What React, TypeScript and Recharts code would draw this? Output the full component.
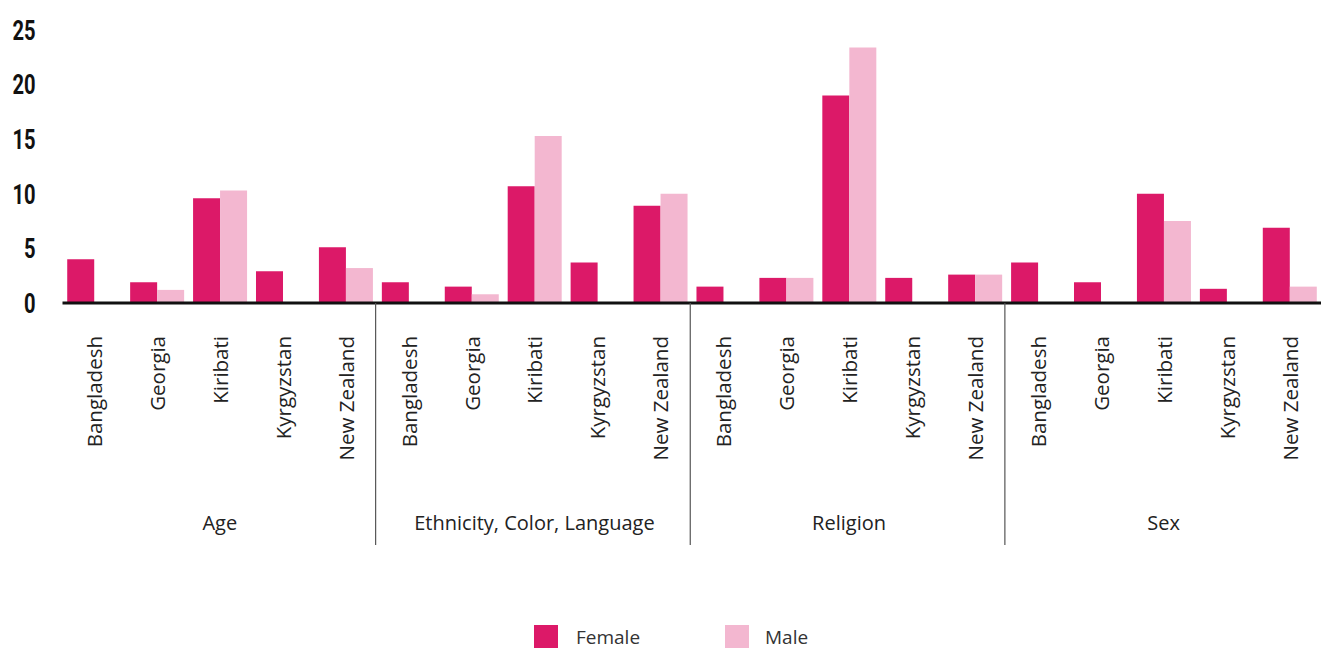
import React from "react";
import { BarChart, Bar, XAxis, YAxis } from "recharts";

const groups = ["Age", "Ethnicity, Color, Language", "Religion", "Sex"];
const countries = ["Bangladesh", "Georgia", "Kiribati", "Kyrgyzstan", "New Zealand"];
const yTicks = [0, 5, 10, 15, 20, 25];

// values per group, in country order
const femaleAge = [4.0, 1.9, 9.6, 2.9, 5.1];
const maleAge = [0, 1.2, 10.3, 0, 3.2];
const femaleEthnicity = [1.9, 1.5, 10.7, 3.7, 8.9];
const maleEthnicity = [0, 0.8, 15.3, 0, 10.0];
const femaleReligion = [1.5, 2.3, 19.0, 2.3, 2.6];
const maleReligion = [0, 2.3, 23.4, 0, 2.6];
const femaleSex = [3.7, 1.9, 10.0, 1.3, 6.9];
const maleSex = [0, 0, 7.5, 0, 1.5];

const femaleByGroup = [femaleAge, femaleEthnicity, femaleReligion, femaleSex];
const maleByGroup = [maleAge, maleEthnicity, maleReligion, maleSex];

const FEMALE = "#DC1968";
const MALE = "#F3B7D0";
const FONT = "'Open Sans', 'Noto Sans', sans-serif";

const data = groups.flatMap((g, gi) =>
  countries.map((c, ci) => ({
    key: `${gi}-${ci}`,
    group: g,
    country: c,
    ci,
    Female: femaleByGroup[gi][ci],
    Male: maleByGroup[gi][ci],
  }))
);

const CountryTick = (props: any) => {
  const { x, y, index, payload } = props;
  const d = data[index];
  const half = payload && typeof payload.offset === "number" ? payload.offset : 31.46;
  const ty = y + 33;
  return (
    <g>
      <text
        x={x}
        y={ty}
        transform={`rotate(-90, ${x}, ${ty})`}
        textAnchor="end"
        dominantBaseline="central"
        fontFamily={FONT}
        fontSize={20.5}
        fill="#222"
      >
        {d ? d.country : ""}
      </text>
      {d && d.ci === 0 && index > 0 ? (
        <line x1={x - half - 1.5} x2={x - half - 1.5} y1={y} y2={y + 242} stroke="#555" strokeWidth={1.2} />
      ) : null}
    </g>
  );
};

const GroupTick = (props: any) => {
  const { x, y, index } = props;
  const d = data[index];
  if (!d || d.ci !== 2) return <g />;
  return (
    <text
      x={x}
      y={y + 29}
      textAnchor="middle"
      dominantBaseline="central"
      fontFamily={FONT}
      fontSize={20}
      fill="#222"
    >
      {d.group}
    </text>
  );
};

const YTick = (props: any) => {
  const { x, y, payload } = props;
  return (
    <text
      transform={`translate(${x}, ${y}) scale(0.72, 1)`}
      textAnchor="end"
      dominantBaseline="central"
      fontFamily="Roboto, sans-serif"
      fontWeight={700}
      fontSize={28}
      fill="#111"
    >
      {payload.value}
    </text>
  );
};

export default function App() {
  return (
    <div style={{ position: "absolute", left: 0, top: 0, width: 1327, height: 648, background: "#fff" }}>
      <BarChart
        width={1327}
        height={648}
        data={data}
        margin={{ top: 30, right: 6, left: 22.5, bottom: 0 }}
        barGap={0}
        barCategoryGap="7.5%"
      >
        <XAxis
          dataKey="key"
          interval={0}
          height={190}
          tickLine={false}
          tickSize={0}
          tickMargin={0}
          axisLine={{ stroke: "#111", strokeWidth: 3 }}
          tick={<CountryTick />}
        />
        <XAxis
          xAxisId="group"
          dataKey="key"
          interval={0}
          height={155}
          tickLine={false}
          tickSize={0}
          tickMargin={0}
          axisLine={false}
          tick={<GroupTick />}
        />
        <YAxis
          domain={[0, 25]}
          ticks={yTicks}
          width={40}
          axisLine={false}
          tickLine={false}
          tickSize={0}
          tickMargin={27}
          tick={<YTick />}
        />
        <Bar dataKey="Female" fill={FEMALE} isAnimationActive={false} />
        <Bar dataKey="Male" fill={MALE} isAnimationActive={false} />
      </BarChart>
      <div
        style={{
          position: "absolute",
          left: 534,
          top: 624,
          display: "flex",
          alignItems: "center",
          fontFamily: FONT,
          fontSize: 19,
          color: "#333",
        }}
      >
        <span style={{ width: 24, height: 24, background: FEMALE, display: "inline-block", flexShrink: 0 }} />
        <span style={{ marginLeft: 18, width: 149, display: "inline-block" }}>Female</span>
        <span style={{ width: 24, height: 24, background: MALE, display: "inline-block", flexShrink: 0 }} />
        <span style={{ marginLeft: 16 }}>Male</span>
      </div>
    </div>
  );
}
